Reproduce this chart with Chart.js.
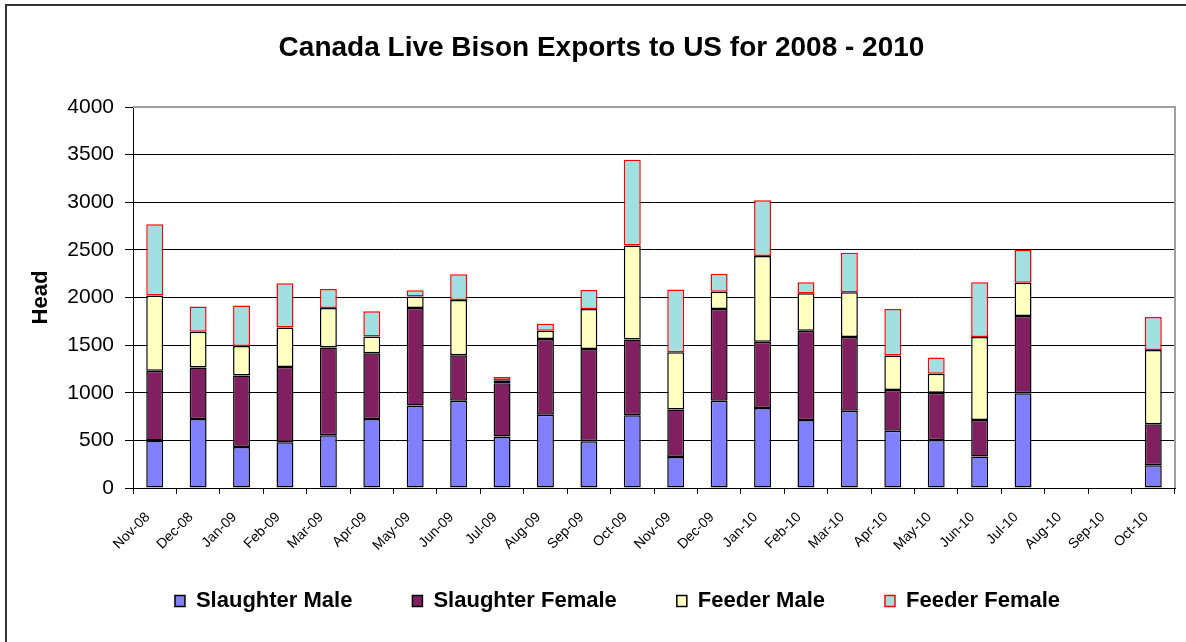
<!DOCTYPE html>
<html>
<head>
<meta charset="utf-8">
<script src="https://cdn.jsdelivr.net/npm/chart.js@4"></script>
<style>
  body { margin: 0; background: #fff; }
  #frame { position: absolute; left: 5px; top: 4px; width: 1200px; height: 700px; border: 2px solid #333; box-sizing: border-box; }
  #wrap { position: absolute; left: 0; top: 0; width: 1186px; height: 642px; }
</style>
</head>
<body>
<div id="frame"></div>
<div id="wrap"><canvas id="chart" width="1186" height="642"></canvas></div>
<script>
// 月份
const months = ['Nov-08', 'Dec-08', 'Jan-09', 'Feb-09', 'Mar-09', 'Apr-09', 'May-09', 'Jun-09',
    'Jul-09', 'Aug-09', 'Sep-09', 'Oct-09', 'Nov-09', 'Dec-09', 'Jan-10', 'Feb-10',
    'Mar-10', 'Apr-10', 'May-10', 'Jun-10', 'Jul-10', 'Aug-10', 'Sep-10', 'Oct-10'];

// 各类头数
const slaughterMale   = [500, 725, 430, 480, 555, 725, 865, 915, 540, 770, 490, 765, 325, 915, 840, 715, 810, 600, 505, 330, 995, null, null, 240];
const slaughterFemale = [730, 540, 750, 790, 920, 690, 1025, 480, 560, 795, 970, 795, 500, 965, 695, 935, 775, 430, 495, 385, 810, null, null, 430];
const feederMale      = [790, 375, 310, 415, 415, 175, 120, 580, 30, 85, 420, 985, 600, 180, 900, 395, 470, 360, 200, 870, 350, null, null, 780];
const feederFemale    = [750, 265, 425, 465, 200, 265, 65, 270, 35, 75, 200, 900, 660, 190, 585, 115, 415, 490, 170, 575, 345, null, null, 345];

const yTicks = [0, 500, 1000, 1500, 2000, 2500, 3000, 3500, 4000];

const legendGap = 60;

function series(label, values, fill, border) {
    return {
        label: label,
        data: values,
        backgroundColor: fill,
        borderColor: border,
        borderWidth: 1.5,
        borderSkipped: false,
        barPercentage: 0.39,
        categoryPercentage: 1
    };
}

// 绘图区上边和右边的灰色边框
const plotBorder = {
    id: 'plotBorder',
    afterDraw(chart) {
        const a = chart.chartArea;
        const ctx = chart.ctx;
        ctx.save();
        ctx.strokeStyle = '#a0a0a0';
        ctx.lineWidth = 2;
        ctx.beginPath();
        ctx.moveTo(a.left, a.top);
        ctx.lineTo(a.right, a.top);
        ctx.lineTo(a.right, a.bottom);
        ctx.stroke();
        ctx.restore();
    }
};

// 图例往上挪, 让它和原图位置一致
const legendShift = {
    id: 'legendShift',
    afterLayout(chart) {
        const lg = chart.legend;
        lg.top = 601 - legendGap - 11;
        lg.bottom = chart.height;
        lg.height = lg.bottom - lg.top;
        lg.left += 16;
        lg.right += 16;
    }
};

Chart.defaults.font.family = "'Liberation Sans', Arial, sans-serif";
Chart.defaults.color = '#000';

new Chart(document.getElementById('chart'), {
    type: 'bar',
    data: {
        labels: months,
        datasets: [
            series('Slaughter Male', slaughterMale, '#8080ff', '#000000'),
            series('Slaughter Female', slaughterFemale, '#802060', '#000000'),
            series('Feeder Male', feederMale, '#ffffc0', '#000000'),
            series('Feeder Female', feederFemale, '#a0e0e0', '#ff0000')
        ]
    },
    options: {
        responsive: false,
        animation: false,
        layout: { padding: { left: 28, right: 11, top: 0, bottom: 0 } },
        plugins: {
            tooltip: { enabled: false },
            title: {
                display: true,
                text: 'Canada Live Bison Exports to US for 2008 - 2010',
                font: { size: 28, weight: 'bold' },
                padding: { top: 31, bottom: 42.4 }
            },
            legend: {
                position: 'bottom',
                maxHeight: 84,
                labels: {
                    font: { size: 22, weight: 'bold' },
                    boxWidth: 10,
                    boxHeight: 11,
                    padding: legendGap
                }
            }
        },
        scales: {
            x: {
                stacked: true,
                grid: { offset: true, drawOnChartArea: false, color: '#000', tickLength: 6 },
                border: { color: '#000' },
                ticks: { font: { size: 14 }, minRotation: 45, maxRotation: 45, autoSkip: false, padding: 15, labelOffset: -7 },
                afterFit(scale) { scale.height = 70; }
            },
            y: {
                stacked: true,
                min: 0,
                max: 4000,
                afterBuildTicks(scale) { scale.ticks = yTicks.map(v => ({ value: v })); },
                grid: { color: '#000', tickLength: 8 },
                border: { color: '#000' },
                ticks: { font: { size: 21 }, padding: 11, callback: v => String(v) },
                title: { display: true, text: 'Head', font: { size: 22, weight: 'bold' }, padding: { top: 0, bottom: 0 } },
                afterFit(scale) { scale.width = 105; }
            }
        }
    },
    plugins: [plotBorder, legendShift]
});
</script>
</body>
</html>
